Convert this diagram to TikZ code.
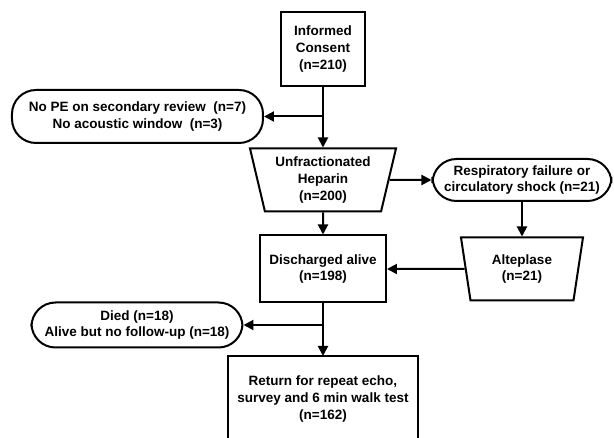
\documentclass[tikz,border=0pt]{standalone}
\usepackage{fontspec}
\setmainfont{Liberation Sans}
\usetikzlibrary{positioning, shapes.geometric, arrows.meta}

\begin{document}
\begin{tikzpicture}[>={Triangle[length=10pt,width=10pt]}, line width=2pt, on grid,
  font=\fontsize{13.5}{16.7}\selectfont\bfseries,
  box/.style={draw, align=center, inner sep=0pt},
  pill/.style={draw, align=center, rounded corners=24pt, inner sep=0pt},
  funnel/.style={draw, align=center, trapezium, shape border rotate=180,
    trapezium left angle=72, trapezium right angle=72, trapezium stretches body=true, inner sep=0pt}]
  \useasboundingbox (-323pt,49pt) rectangle (291pt,-389pt);

  \node[box, minimum width=84pt, minimum height=74pt] (consent) at (0,0) {Informed\\Consent\\(n=210)};
  \node[funnel, minimum width=146pt, minimum height=63pt] (heparin) [below=131pt of consent] {Unfractionated\\Heparin\\(n=200)};
  \node[pill, minimum width=251pt, minimum height=53pt] (excluded) [below left=67.5pt and 185.5pt of consent] {No PE on secondary review\ \ (n=7)\\No acoustic window\ \ (n=3)};
  \node[pill, minimum width=179pt, minimum height=42pt] (failure) [right=199pt of heparin] {Respiratory failure or\\circulatory shock (n=21)};
  \node[funnel, minimum width=122pt, minimum height=63pt] (alteplase) [below=89pt of failure] {Alteplase\\(n=21)};
  \node[box, minimum width=126pt, minimum height=67pt] (discharged) [below=89pt of heparin] {Discharged alive\\(n=198)};
  \node[pill, minimum width=211pt, minimum height=45pt] (died) [below left=56pt and 186pt of discharged] {Died (n=18)\\Alive but no follow-up (n=18)};
  \node[align=center, minimum width=188pt, minimum height=84pt, inner sep=0pt] (followup) [below=130pt of discharged] {Return for repeat echo,\\survey and 6 min walk test\\(n=162)};
  % last box runs off the bottom of the page
  \draw (followup.north west) rectangle ([yshift=-20pt]followup.south east);

  \draw[->] (consent) -- (heparin);
  \draw[->] (consent.south |- excluded.east) -- (excluded.east);
  \draw[->] (heparin) -- (failure);
  \draw[->] (failure) -- (alteplase);
  \draw[->] (heparin) -- (discharged);
  \draw[->] (alteplase) -- (discharged);
  \draw[->] (discharged) -- (followup);
  \draw[->] (discharged.south |- died.east) -- (died.east);
\end{tikzpicture}
\end{document}
